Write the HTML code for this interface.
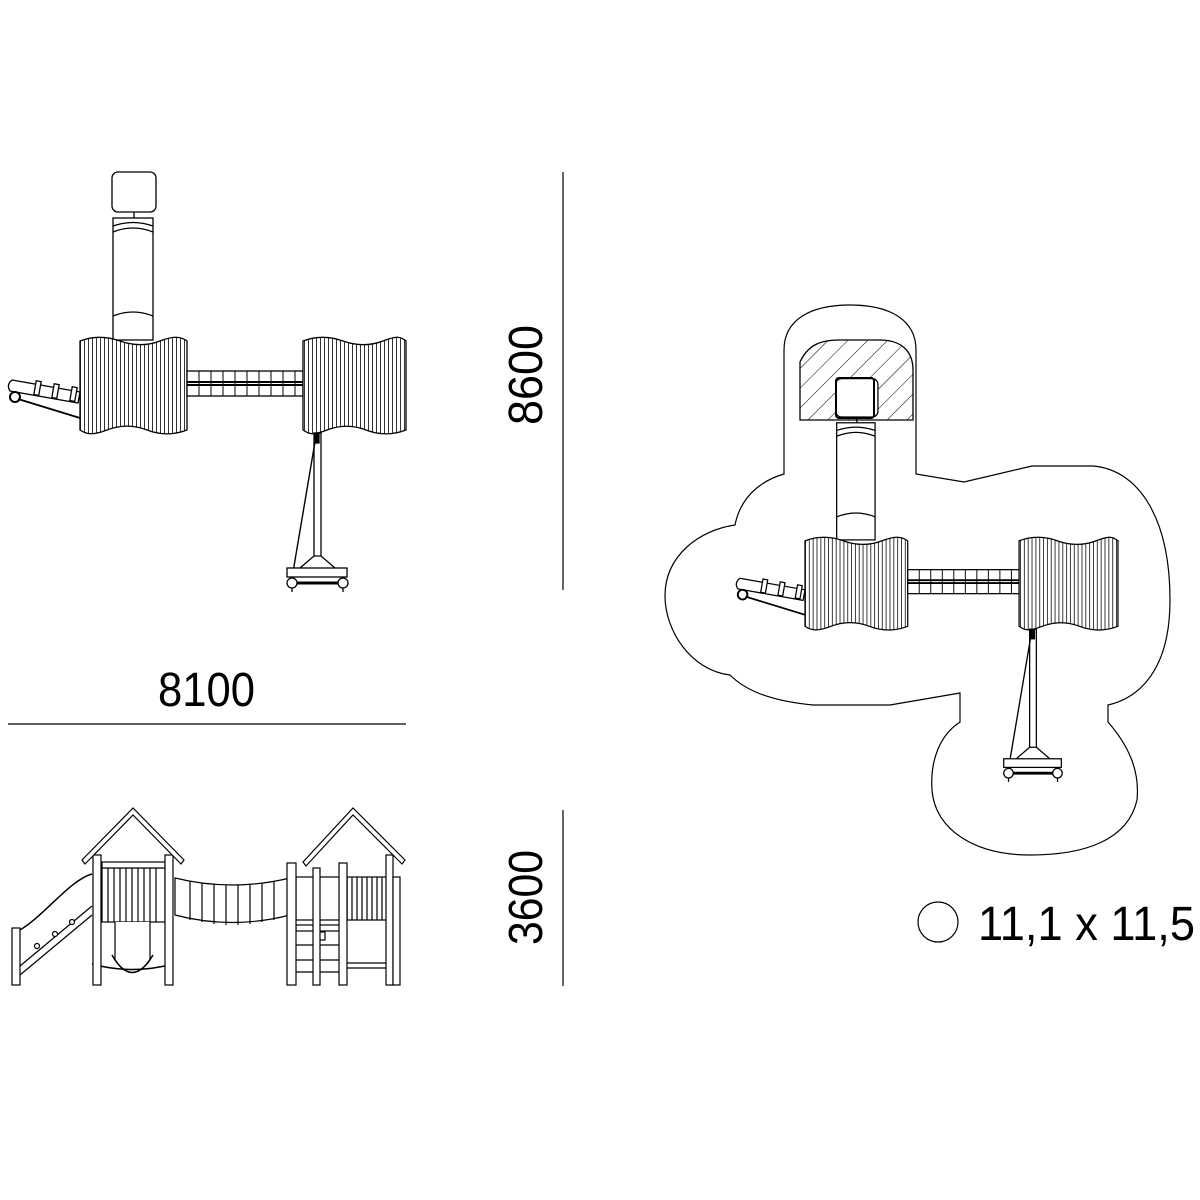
<!DOCTYPE html>
<html><head><meta charset="utf-8"><style>
html,body{margin:0;padding:0;background:#fff;}
svg{display:block;}
text{font-family:"Liberation Sans Narrow","Liberation Sans",sans-serif;fill:#000;}
</style></head><body>
<svg width="1200" height="1200" viewBox="0 0 1200 1200" xmlns="http://www.w3.org/2000/svg">
<defs>
<pattern id="vl" width="4" height="10" patternUnits="userSpaceOnUse"><rect width="4" height="10" fill="#fff"/><line x1="0.5" y1="0" x2="0.5" y2="10" stroke="#000" stroke-width="0.8"/></pattern>
<pattern id="hatch" width="14" height="14" patternUnits="userSpaceOnUse" patternTransform="rotate(45)"><line x1="0" y1="0" x2="0" y2="14" stroke="#000" stroke-width="1"/></pattern>
<g id="plan" fill="none" stroke="#000" stroke-width="1.3">
  <rect x="112" y="172" width="44" height="40" rx="6" fill="#fff"/>
  <line x1="134" y1="212" x2="134" y2="218"/>
  <rect x="113" y="218" width="40" height="122" fill="#fff"/>
  <path d="M113,226 Q133,219 153,226 M113,232 Q133,224 153,232 M113,316 Q133,308 153,316"/>
  <path d="M80,341 C93,336 106,336 120,341 S147,346 160,341 S180,336 187,341 L187,430 C174,435 160,435 147,430 S120,425 107,430 S87,435 80,430 Z" fill="url(#vl)"/>
  <rect x="187" y="371" width="116" height="25" fill="#fff"/>
  <path d="M187,382 H303 M187,385 H303" stroke-width="2"/>
  <path d="M199,371V396M211,371V396M223,371V396M235,371V396M247,371V396M259,371V396M271,371V396M283,371V396M295,371V396" stroke-width="1"/>
  <path d="M303,341 C316,336 329,336 343,341 S370,346 383,341 S400,336 406,341 L406,430 C393,435 379,435 366,430 S340,425 327,430 S310,435 303,430 Z" fill="url(#vl)"/>
  <path d="M12,380 L80,392 L78,403 L10,391 Q6,385 12,380 Z" fill="#fff"/>
  <rect x="35" y="381" width="5" height="14" transform="rotate(10 37 388)" fill="#fff"/>
  <rect x="53" y="384" width="5" height="14" transform="rotate(10 55 391)" fill="#fff"/>
  <rect x="71" y="387" width="5" height="14" transform="rotate(10 73 394)" fill="#fff"/>
  <circle cx="15" cy="397" r="5" stroke-width="2" fill="#fff"/>
  <line x1="18" y1="399" x2="80" y2="418" stroke-width="1.8"/>
  <rect x="314" y="433" width="7" height="124" fill="#fff"/>
  <rect x="315" y="433" width="4" height="10" fill="#000"/>
  <line x1="316" y1="436" x2="292" y2="578" stroke-width="1.4"/>
  <path d="M300,568 L314,556 L321,556 L335,568" fill="#fff"/>
  <rect x="287" y="568" width="60" height="9" fill="#fff"/>
  <line x1="292" y1="583" x2="343" y2="583" stroke-width="3"/>
  <circle cx="292" cy="583" r="5" fill="#fff"/>
  <circle cx="343" cy="583" r="5" fill="#fff"/>
  <path d="M292,588V592M343,588V592"/>
</g>
</defs>

<use href="#plan"/>

<path d="M784,474 L784,350 C784,320 810,305 850,305 C890,305 916,320 916,350 L916,474 L964,482 L1032,466 L1093,466 C1140,470 1170,520 1170,600 C1170,680 1130,700 1108,705 L1108,722 C1128,745 1140,770 1137,800 C1128,840 1085,855 1030,855 C975,855 935,830 932,790 C930,760 940,735 960,722 L960,693 L890,705 L813,705 C760,700 740,685 730,675 C690,670 665,630 665,596 C665,555 700,530 735,525 C742,490 770,478 784,474 Z" fill="none" stroke="#000" stroke-width="1.2"/>
<path d="M800,420 L800,362 C808,345 820,340 840,340 L880,340 C900,340 913,350 913,370 L913,420 Z" fill="url(#hatch)" stroke="#000" stroke-width="1.3"/>
<g transform="translate(728.2,213.5) scale(0.96)"><use href="#plan"/></g>
<rect x="836" y="378" width="38" height="40" rx="3" fill="none" stroke="#000" stroke-width="2"/>

<line x1="563" y1="172" x2="563" y2="590" stroke="#000" stroke-width="1.2"/>
<line x1="563" y1="810" x2="563" y2="986" stroke="#000" stroke-width="1.2"/>
<line x1="8" y1="724" x2="406" y2="724" stroke="#000" stroke-width="1.2"/>
<text x="158" y="706" font-size="48" textLength="97" lengthAdjust="spacingAndGlyphs">8100</text>
<text transform="translate(542,425) rotate(-90)" font-size="48" textLength="100" lengthAdjust="spacingAndGlyphs">8600</text>
<text transform="translate(542,945) rotate(-90)" font-size="48" textLength="95" lengthAdjust="spacingAndGlyphs">3600</text>
<circle cx="938" cy="922" r="20" fill="none" stroke="#000" stroke-width="1.2"/>
<text x="978" y="940" font-size="48" textLength="217" lengthAdjust="spacingAndGlyphs">11,1 x 11,5</text>

<g fill="#fff" stroke="#000" stroke-width="1.2">
  <path d="M20,930 C45,915 70,880 92,874" fill="none" stroke-width="1.5"/>
  <line x1="20" y1="975" x2="92" y2="915" />
  <line x1="20" y1="966" x2="92" y2="906" />
  <circle cx="37" cy="946" r="2.5"/><circle cx="55" cy="934" r="2.5"/><circle cx="72" cy="922" r="2.5"/>
  <rect x="12" y="928" width="8" height="57"/>
  <rect x="102" y="868" width="63" height="54"/>
  <path d="M108,868V922M114,868V922M120,868V922M126,868V922M132,868V922M138,868V922M144,868V922M150,868V922M156,868V922" fill="none"/>
  <rect x="102" y="862" width="63" height="6"/>
  <path d="M115,922 L115,960 Q132,985 150,960 L150,922" />
  <path d="M112,955 Q132,990 153,955" fill="none" stroke-width="1.5"/>
  <path d="M92,964 Q132,975 173,964" fill="none" stroke-width="1.5"/>
  <rect x="93" y="855" width="8" height="130"/>
  <rect x="165" y="855" width="8" height="130"/>
  <path d="M82,860 L133,808 L184,860 L181,864 L133,815 L85,864 Z"/>
  <path d="M175,878 Q232,892 290,878 L290,915 Q232,930 175,915 Z"/>
  <path d="M190,881V920M202,883V922M214,884V924M226,885V925M238,885V925M250,884V924M262,883V922M274,881V920" fill="none"/>
  <rect x="347" y="877" width="43" height="43"/>
  <path d="M352,877V920M357,877V920M362,877V920M367,877V920M372,877V920M377,877V920M382,877V920" fill="none"/>
  <rect x="296" y="877" width="51" height="43"/>
  <rect x="296" y="925" width="49" height="6"/>
  <path d="M296,945H341M296,960H341M296,972H341M347,963H390M347,968H390" fill="none"/>
  <rect x="318" y="932" width="7" height="8"/>
  <path d="M303,862 L353,808 L405,860 L402,864 L353,815 L306,866 Z"/>
  <rect x="287" y="863" width="9" height="122"/>
  <rect x="313" y="868" width="7" height="117"/>
  <rect x="339" y="863" width="8" height="122"/>
  <rect x="386" y="855" width="7" height="130"/>
  <rect x="393" y="877" width="7" height="108"/>
</g>
</svg>
</body></html>
